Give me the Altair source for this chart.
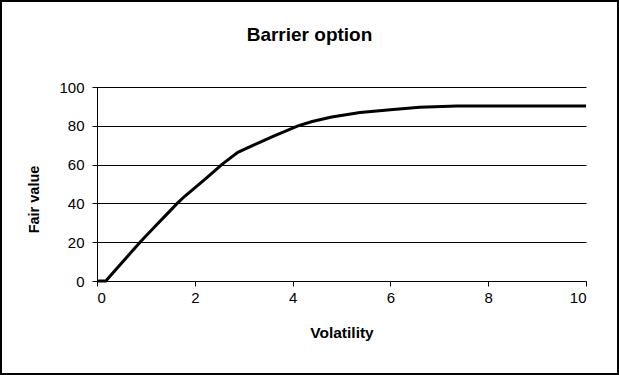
import altair as alt
import pandas as pd

volatility = [0, 0.18, 0.4, 0.6, 0.88, 1.0, 1.2, 1.4, 1.64, 1.8, 2.0, 2.2, 2.4, 2.55,
              2.88, 3.2, 3.6, 4.11, 4.4, 4.8, 5.38, 6.0, 6.6, 7.36, 8.0, 9.0, 10.0]
fair_value = [0, 0, 6.3, 12, 20, 23.2, 28.5, 33.7, 40, 43.8, 48, 52.3, 56.6, 60,
              66.3, 70, 74.6, 80, 82.2, 84.5, 86.9, 88.3, 89.5, 90.2, 90.2, 90.2, 90.2]
chart_title = ["Barrier option"]

df = pd.DataFrame({"Volatility": volatility, "Fair value": fair_value})
title_df = pd.DataFrame({"title": chart_title})

FONT = "Liberation Sans"

line = alt.Chart(df).mark_line(color="black", strokeWidth=3, clip=False).encode(
    x=alt.X("Volatility:Q",
            scale=alt.Scale(domain=[0, 10], nice=False, zero=False),
            axis=alt.Axis(values=[0, 2, 4, 6, 8, 10], grid=False, title="Volatility",
                          domainColor="black", tickColor="black", tickSize=5,
                          labelFontSize=15, labelPadding=4, labelColor="black",
                          titleFontSize=15.5, titleFontWeight="bold", titlePadding=20,
                          titleColor="black", labelFont=FONT, titleFont=FONT)),
    y=alt.Y("Fair value:Q",
            scale=alt.Scale(domain=[0, 100], nice=False),
            axis=alt.Axis(values=[0, 20, 40, 60, 80, 100], grid=True, gridColor="black",
                          gridWidth=1, title="Fair value",
                          domainColor="black", tickColor="black", tickSize=5,
                          labelFontSize=15, labelPadding=8, labelColor="black",
                          titleFontSize=14.5, titleFontWeight="bold", titlePadding=17,
                          titleY=112,
                          titleColor="black", labelFont=FONT, titleFont=FONT)),
)

title = alt.Chart(title_df).mark_text(font=FONT, fontSize=19, fontWeight="bold",
                                      color="black", align="center", baseline="alphabetic",
                                      clip=False).encode(
    text="title:N", x=alt.value(212.5), y=alt.value(-46)
)

border = alt.Chart(df).mark_rect(fill=None, stroke="black", strokeWidth=2, clip=False).encode(
    x=alt.value(-96), x2=alt.value(521), y=alt.value(-86), y2=alt.value(287)
)

chart = alt.layer(line, title, border).properties(
    width=489,
    height=194,
    padding={"left": 97, "top": 87, "right": 33, "bottom": 94},
    autosize=alt.AutoSizeParams(type="none"),
    background="white",
).configure_view(stroke=None)

chart.save("out.html", embed_options={"renderer": "svg", "actions": False})
